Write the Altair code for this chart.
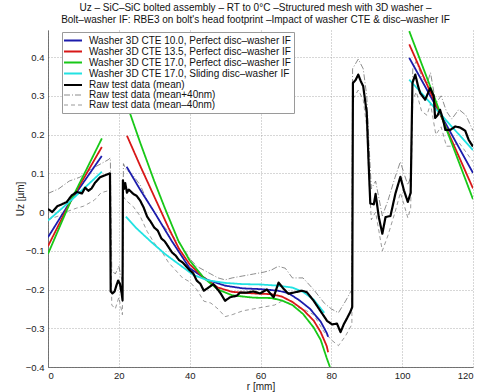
import altair as alt
import pandas as pd

SERIES = [
    "Washer 3D CTE 10.0, Perfect disc–washer IF",
    "Washer 3D CTE 13.5, Perfect disc–washer IF",
    "Washer 3D CTE 17.0, Perfect disc–washer IF",
    "Washer 3D CTE 17.0, Sliding disc–washer IF",
    "Raw test data (mean)",
    "Raw test data (mean+40nm)",
    "Raw test data (mean–40nm)",
]
COLORS = ["#1c1cac", "#d81818", "#18c818", "#22e2e2", "#000000", "#707070", "#808080"]
DASHES = [[1, 0], [1, 0], [1, 0], [1, 0], [1, 0], [6, 2, 1, 2], [4, 3]]
WIDTHS = [1.8, 1.8, 1.8, 1.8, 2.2, 0.8, 0.8]

TITLE = [
    "Uz – SiC–SiC bolted assembly – RT to 0°C –Structured mesh with 3D washer –",
    "Bolt–washer IF: RBE3 on bolt's head footprint –Impact of washer CTE & disc–washer IF",
]

# ---- FE model curves, three radial segments each ----
seg_a_x = [0, 6.5, 15.2]
cte10_a = [-0.065, 0.03, 0.145]
cte135_a = [-0.088, 0.03, 0.168]
cte17_a = [-0.108, 0.03, 0.19]
slide_a = [-0.022, 0.03, 0.104]

cte10_b_x = [22.2, 26, 30, 34.9, 40, 45, 50, 55, 60, 65, 68, 71, 74, 77, 78.7, 79.1]
cte10_b_y = [0.117, 0.058, 0.0, -0.074, -0.145, -0.175, -0.19, -0.197, -0.199, -0.203, -0.21, -0.228, -0.25, -0.283, -0.312, -0.322]
cte135_b_x = [22.3, 26, 30, 34, 37, 40, 44, 48, 52, 58, 63, 66, 69, 72, 75, 77, 78.7, 79.1]
cte135_b_y = [0.197, 0.12, 0.04, -0.04, -0.095, -0.135, -0.17, -0.195, -0.206, -0.21, -0.212, -0.218, -0.232, -0.252, -0.28, -0.31, -0.346, -0.362]
cte17_b_x = [22.2, 26, 30, 33, 36.8, 40, 44, 48, 52, 58, 63, 66, 69, 72, 75, 77, 78.7, 79.6]
cte17_b_y = [0.28, 0.18, 0.08, 0.01, -0.074, -0.125, -0.17, -0.2, -0.215, -0.221, -0.222, -0.228, -0.24, -0.263, -0.298, -0.33, -0.377, -0.4]
slide_b_x = [22.0, 25, 29, 33, 37, 41, 45, 50, 55, 60, 65, 69, 72, 75, 78]
slide_b_y = [-0.012, -0.042, -0.076, -0.108, -0.135, -0.162, -0.176, -0.183, -0.186, -0.187, -0.19, -0.195, -0.206, -0.226, -0.26]

seg_c_x = [102.0, 120]
cte10_c = [0.398, 0.101]
cte135_c = [0.433, 0.061]
cte17_c = [0.467, 0.033]
slide_c = [0.342, 0.160]

# ---- raw test data (mean) ----
mean_x = [0, 1.2, 2.6, 3.9, 5.3, 6.7, 8.1, 9.6, 10.5, 11.4,
          12.3, 13.3, 14.7, 16.1, 17.5, 17.7, 18.2, 18.8, 19.3, 19.8,
          20.3, 20.8, 21.05, 21.15, 21.5, 21.8, 22.3, 22.8, 23.5, 24.2,
          25, 26, 27, 28, 29, 30, 31, 32, 33, 34,
          35, 36, 37, 38, 39, 40, 41, 42, 43, 44,
          45.3, 46.7, 48.6, 50, 51.4, 53.3, 54.2, 56.1, 58, 59.9,
          61.8, 63.7, 65.1, 66.5, 67.9, 69.8, 71.7, 73.1, 75, 76.9,
          78.8, 80.2, 81.6, 82.6, 83.5, 84.5, 85.5, 85.9, 86.1, 86.8,
          87.6, 88.3, 89, 90, 90.5, 91, 92, 92.5, 93.4, 94.4,
          95.3, 96.7, 98.1, 99.5, 100.5, 101.6, 102.4, 102.9, 103.7, 104.5,
          105.1, 106.5, 107.9, 108.9, 109.3, 110, 110.7, 111.5, 112.2, 113.6,
          115, 116.4, 117.8, 118.8, 120]
mean_y = [0.008, 0.0, 0.015, 0.02, 0.026, 0.043, 0.052, 0.048, 0.063, 0.055,
          0.061, 0.076, 0.09, 0.095, 0.1, -0.205, -0.21, -0.205, -0.19, -0.177,
          -0.185, -0.21, -0.228, 0.082, 0.06, 0.075, 0.05, 0.058, 0.052, 0.046,
          0.042, 0.03, 0.012, -0.012, -0.025, -0.04, -0.048, -0.068, -0.076, -0.09,
          -0.104, -0.112, -0.124, -0.13, -0.14, -0.15, -0.158, -0.177, -0.185, -0.203,
          -0.195, -0.186, -0.208, -0.229, -0.22, -0.216, -0.208, -0.208, -0.205, -0.21,
          -0.2, -0.22, -0.182, -0.198, -0.211, -0.207, -0.203, -0.207, -0.229, -0.255,
          -0.281, -0.29, -0.288, -0.31, -0.29, -0.273, -0.255, -0.245, 0.333, 0.34,
          0.355, 0.338, 0.325, 0.256, 0.134, 0.022, 0.02, 0.047, -0.013, -0.056,
          -0.013, -0.01, 0.048, 0.091, 0.056, 0.026, 0.05, 0.333, 0.355, 0.325,
          0.307, 0.29, 0.32, 0.3, 0.243, 0.25, 0.264, 0.24, 0.212, 0.212,
          0.221, 0.218, 0.21, 0.186, 0.169]

# ---- raw test data (mean+40nm) ----
upper_x = [0, 3, 6, 9, 12, 15, 17, 17.6, 18, 19,
           20, 21, 21.3, 22, 24, 26, 28, 30, 32, 34,
           36, 38, 40, 42, 44, 46, 48, 50, 52, 55,
           58, 61, 63, 65, 67, 69, 72, 75, 78, 80,
           82, 84, 85.8, 86, 87.6, 89, 90, 90.6, 91.3, 92.5,
           94.4, 96, 98, 99.5, 100.5, 101.6, 102.4, 103, 104, 105.5,
           107, 108, 109.5, 111, 112.5, 114, 116, 118, 119, 120]
upper_y = [0.048, 0.06, 0.08, 0.09, 0.11, 0.125, 0.135, 0.14, -0.15, -0.16,
           -0.14, -0.18, 0.125, 0.11, 0.095, 0.07, 0.03, 0.0, -0.03, -0.05,
           -0.07, -0.09, -0.12, -0.14, -0.15, -0.16, -0.17, -0.175, -0.17, -0.165,
           -0.16, -0.155, -0.15, -0.14, -0.145, -0.17, -0.17, -0.2, -0.235, -0.25,
           -0.26, -0.23, -0.2, 0.37, 0.395, 0.37, 0.3, 0.18, 0.06, 0.08,
           -0.01, 0.03, 0.09, 0.13, 0.1, 0.07, 0.09, 0.37, 0.39, 0.35,
           0.33, 0.36, 0.28, 0.3, 0.26, 0.24, 0.265, 0.25, 0.23, 0.21]

# ---- raw test data (mean-40nm) ----
lower_x = [0, 3, 5, 8, 10, 13, 15, 17, 17.6, 18,
           19, 20, 21, 21.3, 22, 24, 26, 28, 30, 32,
           34, 36, 38, 40, 42, 44, 46, 48, 50, 52,
           55, 58, 61, 64, 66, 68, 70, 72, 75, 78,
           80, 82, 84, 85.8, 86, 87.6, 89, 90, 90.6, 91.3,
           92.5, 94.4, 96, 98, 99.5, 100.5, 101.6, 102.4, 103, 104,
           105.5, 107, 108, 109.5, 111, 112.5, 114, 116, 118, 120]
lower_y = [-0.02, -0.01, 0.0, 0.01, 0.015, 0.03, 0.05, 0.055, 0.05, -0.24,
           -0.25, -0.22, -0.265, 0.04, 0.03, 0.015, -0.01, -0.05, -0.08, -0.1,
           -0.13, -0.15, -0.17, -0.18, -0.2, -0.23, -0.235, -0.25, -0.27, -0.265,
           -0.255, -0.25, -0.245, -0.24, -0.23, -0.235, -0.245, -0.25, -0.265, -0.31,
           -0.33, -0.345, -0.32, -0.29, 0.29, 0.315, 0.29, 0.22, 0.09, -0.02,
           0.0, -0.1, -0.06, 0.0, 0.05, 0.02, -0.015, 0.01, 0.29, 0.31,
           0.26, 0.25, 0.28, 0.2, 0.22, 0.17, 0.17, 0.18, 0.155, 0.13]

rows = []


def add(series, seg, xs, ys):
    for i, (x, y) in enumerate(zip(xs, ys)):
        rows.append({"series": series, "seg": f"{series}|{seg}", "x": x, "y": y, "i": i})


add(SERIES[0], "a", seg_a_x, cte10_a)
add(SERIES[1], "a", seg_a_x, cte135_a)
add(SERIES[2], "a", seg_a_x, cte17_a)
add(SERIES[3], "a", seg_a_x, slide_a)
add(SERIES[0], "b", cte10_b_x, cte10_b_y)
add(SERIES[1], "b", cte135_b_x, cte135_b_y)
add(SERIES[2], "b", cte17_b_x, cte17_b_y)
add(SERIES[3], "b", slide_b_x, slide_b_y)
add(SERIES[0], "c", seg_c_x, cte10_c)
add(SERIES[1], "c", seg_c_x, cte135_c)
add(SERIES[2], "c", seg_c_x, cte17_c)
add(SERIES[3], "c", seg_c_x, slide_c)
add(SERIES[4], "a", mean_x, mean_y)
add(SERIES[5], "a", upper_x, upper_y)
add(SERIES[6], "a", lower_x, lower_y)

df = pd.DataFrame(rows)

FONT = "Liberation Sans"

x_enc = alt.X(
    "x:Q",
    scale=alt.Scale(domain=[0, 120], nice=False, zero=False),
    axis=alt.Axis(values=[0, 20, 40, 60, 80, 100, 120], title="r [mm]", ticks=False,
                  labelPadding=3, titlePadding=2, format="d"),
)
y_enc = alt.Y(
    "y:Q",
    scale=alt.Scale(domain=[-0.4, 0.47], nice=False, zero=False),
    axis=alt.Axis(values=[-0.4, -0.3, -0.2, -0.1, 0, 0.1, 0.2, 0.3, 0.4], title="Uz [µm]",
                  ticks=False, labelPadding=4, titlePadding=0,
                  labelExpr="datum.value == 0 ? '0' : format(datum.value, '.1f')"),
)
color_enc = alt.Color("series:N", scale=alt.Scale(domain=SERIES, range=COLORS), legend=alt.Legend(title=None))
dash_enc = alt.StrokeDash("series:N", scale=alt.Scale(domain=SERIES, range=DASHES), legend=alt.Legend(title=None))
width_enc = alt.StrokeWidth("series:N", scale=alt.Scale(type="ordinal", domain=SERIES, range=WIDTHS),
                            legend=alt.Legend(title=None))


def layer(names):
    return alt.Chart(df).transform_filter(
        alt.FieldOneOfPredicate(field="series", oneOf=names)
    ).mark_line(clip=True, strokeJoin="round").encode(
        x=x_enc, y=y_enc, color=color_enc, strokeDash=dash_enc, strokeWidth=width_enc,
        detail="seg:N", order="i:Q",
    )


chart = alt.layer(
    layer(SERIES[5:7]),
    layer(SERIES[0:4]),
    layer(SERIES[4:5]),
).properties(
    width=425,
    height=337,
    padding={"left": 48, "top": 30, "right": 7, "bottom": 25},
    autosize=alt.AutoSizeParams(type="none"),
    title=alt.Title(TITLE, fontSize=10, font=FONT, fontWeight="normal", color="#111",
                    anchor="middle", offset=5, dx=-5, lineHeight=12.5),
).configure_view(stroke=None).configure_axis(
    labelFont=FONT, titleFont=FONT, labelFontSize=9.5, titleFontSize=10,
    titleFontWeight="normal", labelColor="#222", titleColor="#222",
    gridDash=[1, 2], gridColor="#9a9a9a", gridWidth=0.8,
    domainColor="#555", domainWidth=0.8,
).configure_legend(
    orient="none", legendX=14, legendY=2, fillColor="white", strokeColor="#9a9a9a",
    padding=3, symbolType="M-2,0H2", symbolSize=81, symbolOffset=2, labelOffset=10,
    labelFont=FONT, labelFontSize=10, labelColor="#111", labelLimit=400, rowPadding=0,
)

chart.save("out.html", embed_options={"renderer": "svg", "actions": False})
